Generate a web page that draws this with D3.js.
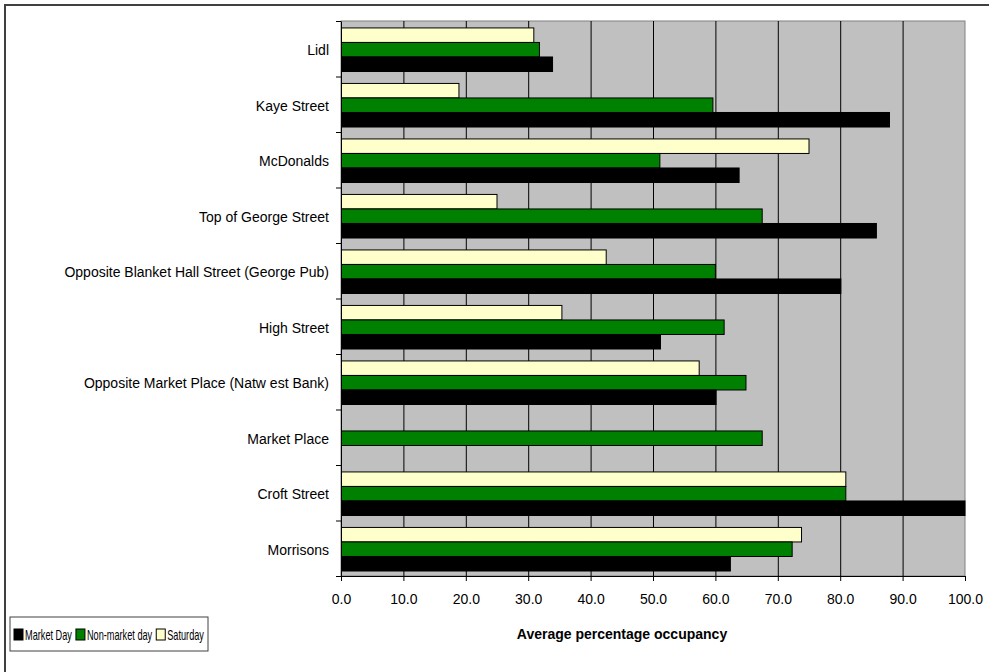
<!DOCTYPE html>
<html>
<head>
<meta charset="utf-8">
<script src="https://cdn.jsdelivr.net/npm/d3@7"></script>
<style>
  body { margin: 0; background: #fff; }
  svg text { font-family: Arial, "Liberation Sans", sans-serif; }
</style>
</head>
<body>
<div id="chart"></div>
<script>
// categories, top to bottom as drawn
const categories = [
  "Lidl",
  "Kaye Street",
  "McDonalds",
  "Top of George Street",
  "Opposite Blanket Hall Street (George Pub)",
  "High Street",
  "Opposite Market Place (Natw est Bank)",
  "Market Place",
  "Croft Street",
  "Morrisons"
];

const seriesNames = ["Saturday", "Non-market day", "Market Day"];
const legendOrder = ["Market Day", "Non-market day", "Saturday"];

// values per category (same order as categories), null = no bar
const marketDay    = [33.9, 87.9, 63.8, 85.8, 80.1, 51.2, 60.1, null, 100.0, 62.4];
const nonMarketDay = [31.8, 59.6, 51.1, 67.5, 60.0, 61.4, 64.9, 67.5, 80.9, 72.3];
const saturday     = [30.9, 18.9, 75.0, 25.0, 42.5, 35.4, 57.4, null, 80.9, 73.8];

const xTicks = [0, 10, 20, 30, 40, 50, 60, 70, 80, 90, 100];

const colors = {
  "Market Day": "#000000",
  "Non-market day": "#008000",
  "Saturday": "#FFFFCC"
};

const W = 989, H = 672;
const margin = {top: 21, right: 24, bottom: 96, left: 341};
const plotW = W - margin.left - margin.right;
const plotH = H - margin.top - margin.bottom;

const rows = categories.map((c, i) => ({
  name: c,
  "Saturday": saturday[i],
  "Non-market day": nonMarketDay[i],
  "Market Day": marketDay[i]
}));

const svg = d3.select("#chart").append("svg")
    .attr("width", W)
    .attr("height", H);

// outer chart frame (runs off the right and bottom edge)
svg.append("rect")
    .attr("x", 5).attr("y", 5)
    .attr("width", W + 10).attr("height", H + 10)
    .attr("fill", "none")
    .attr("stroke", "#404040")
    .attr("stroke-width", 2);

const g = svg.append("g")
    .attr("transform", "translate(" + margin.left + "," + margin.top + ")");

const x = d3.scaleLinear()
    .domain([0, 100])
    .range([0, plotW]);

const y = d3.scaleBand()
    .domain(categories)
    .range([0, plotH])
    .padding(0);

const yInner = d3.scaleBand()
    .domain(seriesNames)
    .range([y.bandwidth() * 0.125, y.bandwidth() * 0.91])
    .padding(0);

// plot background
g.append("rect")
    .attr("width", plotW)
    .attr("height", plotH)
    .attr("fill", "#C0C0C0")
    .attr("stroke", "#808080");

// vertical gridlines
g.append("g")
  .selectAll("line")
  .data(xTicks.slice(1, -1))
  .enter().append("line")
    .attr("x1", d => x(d) + 0.5).attr("x2", d => x(d) + 0.5)
    .attr("y1", 0).attr("y2", plotH)
    .attr("stroke", "#000")
    .attr("stroke-width", 1);

// bars
const groups = g.selectAll(".cat")
  .data(rows)
  .enter().append("g")
    .attr("class", "cat")
    .attr("transform", d => "translate(0," + y(d.name) + ")");

groups.selectAll("rect")
  .data(d => seriesNames.map(s => ({key: s, value: d[s]})).filter(v => v.value != null))
  .enter().append("rect")
    .attr("x", 0.5)
    .attr("y", d => yInner(d.key))
    .attr("width", d => x(d.value) - 0.5)
    .attr("height", yInner.bandwidth())
    .attr("fill", d => colors[d.key])
    .attr("stroke", "#000")
    .attr("stroke-width", 1);

// x axis
const xAxis = g.append("g")
    .attr("transform", "translate(0," + plotH + ")")
    .call(d3.axisBottom(x).tickValues(xTicks).tickFormat(d3.format(".1f")).tickSizeInner(5).tickSizeOuter(0).tickPadding(13));
xAxis.select(".domain").attr("stroke", "#000");
xAxis.selectAll("text").attr("font-size", 14).attr("fill", "#000");

// y axis
const yAxis = g.append("g")
    .call(d3.axisLeft(y).tickSize(0).tickPadding(12));
yAxis.select(".domain").attr("stroke", "#000");
yAxis.selectAll("text").attr("font-size", 14).attr("fill", "#000").attr("dy", "0.45em");

// category separator ticks
g.append("g")
  .selectAll("line")
  .data(d3.range(categories.length + 1))
  .enter().append("line")
    .attr("x1", -5).attr("x2", 0)
    .attr("y1", i => i * y.step() + 0.5)
    .attr("y2", i => i * y.step() + 0.5)
    .attr("stroke", "#000");

// axis title
svg.append("text")
    .attr("x", 622)
    .attr("y", 639)
    .attr("text-anchor", "middle")
    .attr("font-size", 14)
    .attr("font-weight", "bold")
    .text("Average percentage occupancy");

// legend
const legend = svg.append("g")
    .attr("transform", "translate(10,617)");
legend.append("rect")
    .attr("width", 198)
    .attr("height", 34)
    .attr("fill", "#fff")
    .attr("stroke", "#404040");

// text is squeezed so the three entries fit the narrow box
const textW = {};
legendOrder.forEach(name => {
  const t = legend.append("text").attr("font-size", 14).text(name);
  textW[name] = t.node().getComputedTextLength();
  t.remove();
});
const sq = 9, sqGap = 2, itemGap = 4;
const room = 190 - legendOrder.length * (sq + sqGap) - (legendOrder.length - 1) * itemGap;
const squeeze = room / d3.sum(legendOrder, n => textW[n]);

let lx = 4;
legendOrder.forEach(name => {
  legend.append("rect")
      .attr("x", lx).attr("y", 12)
      .attr("width", sq).attr("height", 11)
      .attr("fill", colors[name])
      .attr("stroke", "#000");
  legend.append("text")
      .attr("transform", "translate(" + (lx + sq + sqGap) + ",23) scale(" + squeeze + ",1)")
      .attr("font-size", 14)
      .text(name);
  lx += sq + sqGap + textW[name] * squeeze + itemGap;
});
</script>
</body>
</html>
